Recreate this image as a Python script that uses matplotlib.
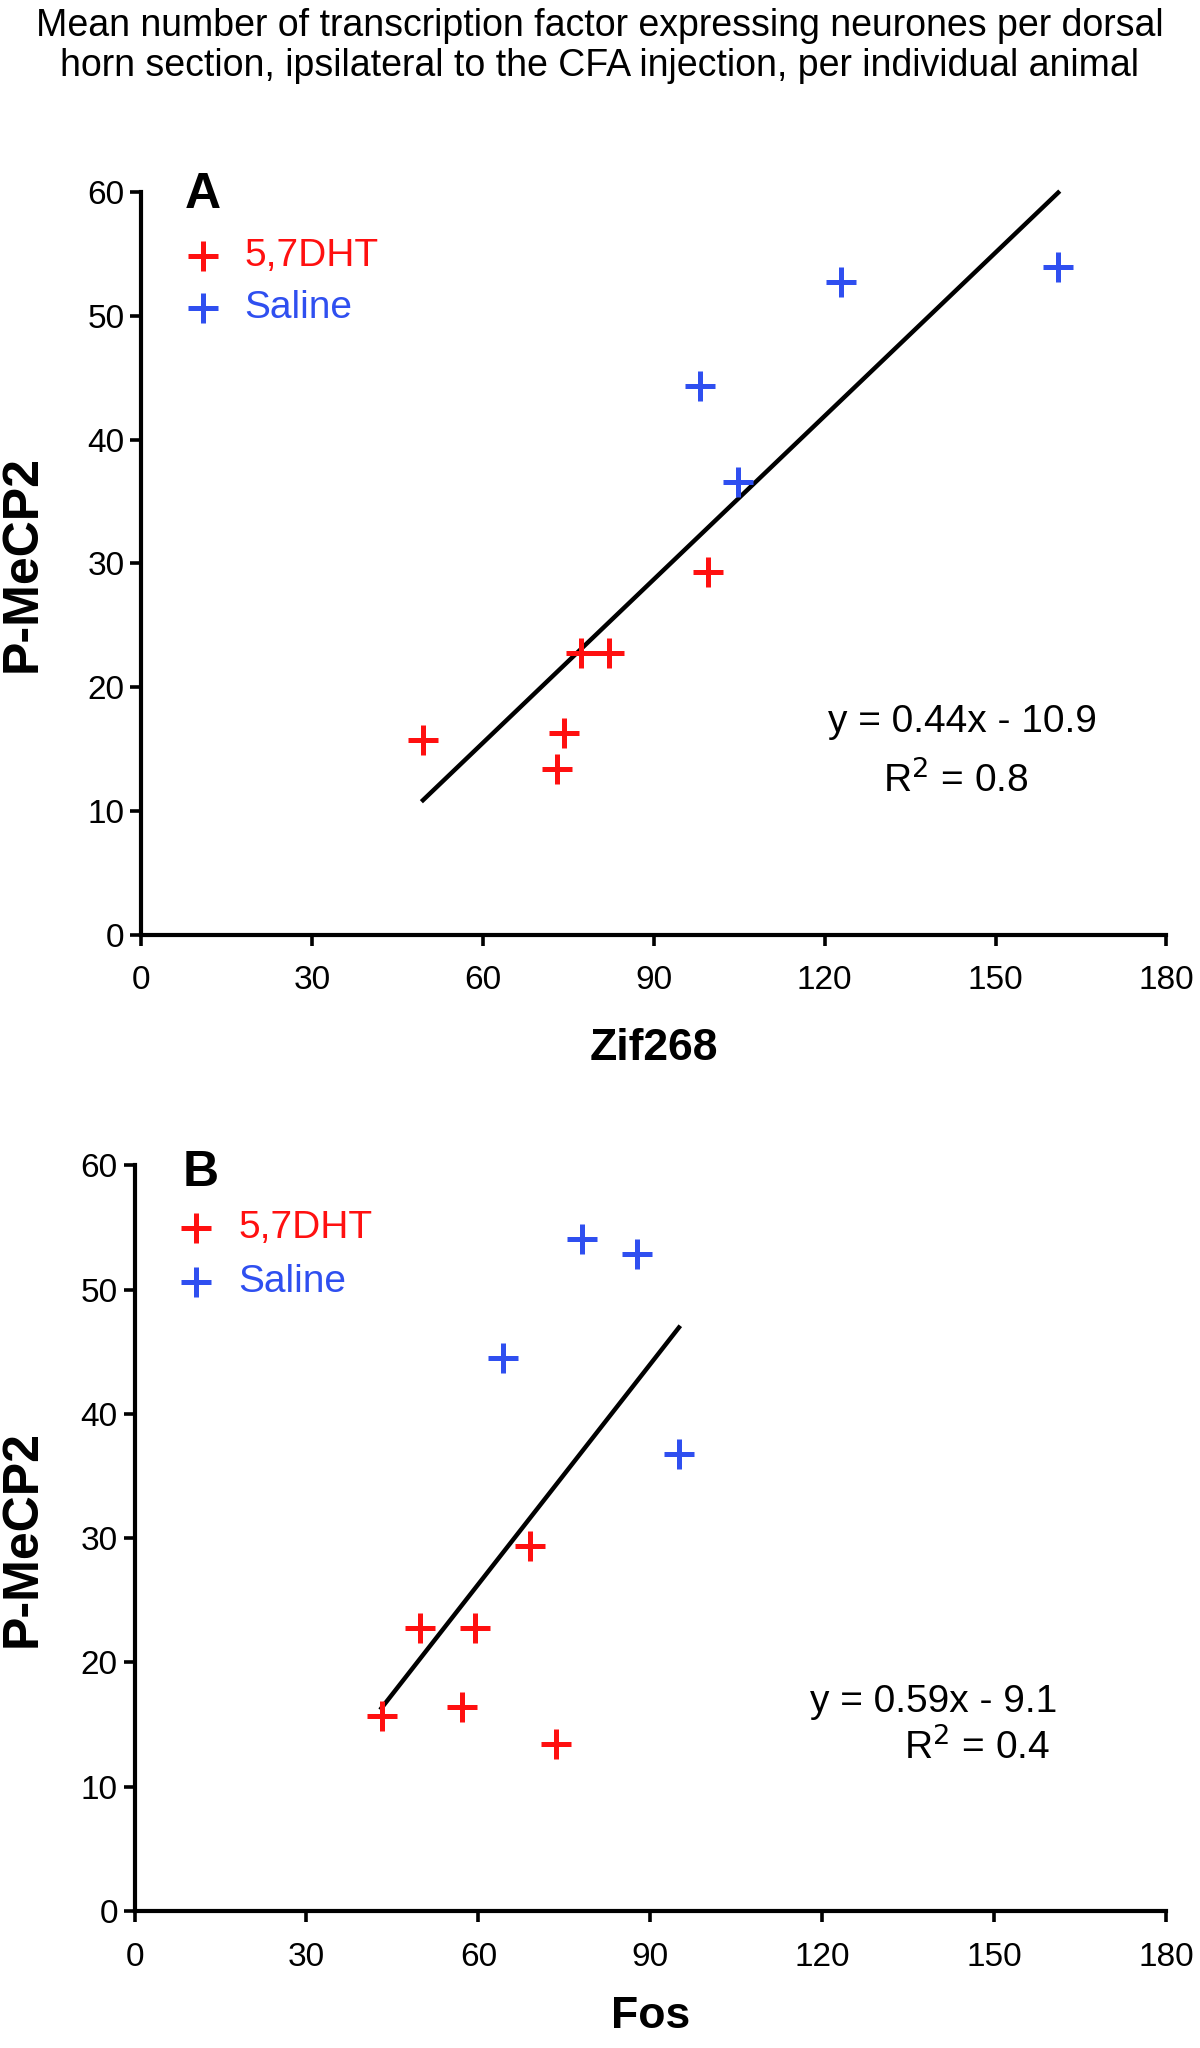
import matplotlib
matplotlib.use("Agg")
import matplotlib.pyplot as plt
import numpy as np

plt.rcParams['font.family'] = ['Liberation Sans', 'DejaVu Sans']

# ---- data ----
title = "Mean number of transcription factor expressing neurones per dorsal\nhorn section, ipsilateral to the CFA injection, per individual animal"
groups = ["5,7DHT", "Saline"]

# Panel A: Zif268 vs P-MeCP2
zif_dht = [49.5, 74.3, 73.1, 77.3, 82.1, 99.5]
mecp_dht_a = [15.7, 16.3, 13.4, 22.8, 22.8, 29.3]
zif_sal = [98.1, 104.8, 122.9, 161.0]
mecp_sal_a = [44.3, 36.6, 52.7, 53.9]
fit_a = (0.44, -10.9)
r2_a = 0.8

# Panel B: Fos vs P-MeCP2
fos_dht = [43.1, 49.9, 59.5, 57.2, 69.0, 73.6]
mecp_dht_b = [15.7, 22.8, 22.8, 16.4, 29.4, 13.4]
fos_sal = [64.3, 78.1, 87.7, 95.0]
mecp_sal_b = [44.5, 54.1, 52.9, 36.8]
fit_b = (0.59, -9.1)
r2_b = 0.4

xticks = [0, 30, 60, 90, 120, 150, 180]
yticks = [0, 10, 20, 30, 40, 50, 60]

RED = "#ff1010"
BLUE = "#2f4ff0"

fig = plt.figure(figsize=(12, 20.48), dpi=100)
fig.text(0.5, 0.996, title, ha='center', va='top', fontsize=27, linespacing=1.15)


def panel(rect, xd, yd, xs, ys, fit, r2, letter, xlabel, eq_pos, r2_pos, leg):
    ax = fig.add_axes(rect)
    ax.plot(xd, yd, '+', color=RED, ms=21, mew=3.6, clip_on=False, zorder=3)
    ax.plot(xs, ys, '+', color=BLUE, ms=21, mew=3.6, clip_on=False, zorder=3)
    allx = np.array(list(xd) + list(xs))
    lx = np.array([allx.min(), allx.max()])
    ax.plot(lx, fit[0] * lx + fit[1], color='black', lw=3.2, clip_on=False, zorder=2)
    ax.set_xlim(0, 180)
    ax.set_ylim(0, 60)
    ax.set_xticks(xticks)
    ax.set_yticks(yticks)
    for s in ['top', 'right']:
        ax.spines[s].set_visible(False)
    for s in ['left', 'bottom']:
        ax.spines[s].set_linewidth(3.0)
    ax.tick_params(axis='both', width=2.6, length=8, labelsize=24, direction='out')
    ax.tick_params(axis='x', pad=14)
    ax.tick_params(axis='y', pad=4)
    ax.set_xlabel(xlabel, fontsize=32, fontweight='bold')
    ax.set_ylabel("P-MeCP2", fontsize=36, fontweight='bold')
    ax.xaxis.set_label_coords(0.5, leg['xl'])
    ax.yaxis.set_label_coords(leg['yl'], 0.5)
    sign = '-' if fit[1] < 0 else '+'
    ax.text(eq_pos[0], eq_pos[1], f"y = {fit[0]:.2f}x {sign} {abs(fit[1]):.1f}",
            ha='center', va='center', fontsize=28)
    ax.text(r2_pos[0], r2_pos[1], f"R$^2$ = {r2:.1f}", ha='center', va='center', fontsize=28)
    ax.text(leg['lx'], leg['ly'], letter, transform=ax.transAxes, ha='left', va='center',
            fontsize=36, fontweight='bold')
    for g, col, yy in zip(groups, [RED, BLUE], leg['gy']):
        ax.plot([leg['mx']], [yy], '+', color=col, ms=21, mew=3.6, transform=ax.transAxes, clip_on=False)
        ax.text(leg['tx'], yy, g, color=col, transform=ax.transAxes, ha='left', va='center', fontsize=28)
    return ax


panel([0.1175, 0.5435, 0.8545, 0.3628], zif_dht, mecp_dht_a, zif_sal, mecp_sal_a, fit_a, r2_a,
      "A", "Zif268", (144.2, 17.2), (143.0, 12.5),
      dict(xl=-0.125, yl=-0.093, lx=0.043, ly=0.996, mx=0.06, tx=0.1006, gy=[0.914, 0.844]))
panel([0.1121, 0.0669, 0.8596, 0.3641], fos_dht, mecp_dht_b, fos_sal, mecp_sal_b, fit_b, r2_b,
      "B", "Fos", (139.4, 16.8), (147.0, 13.2),
      dict(xl=-0.114, yl=-0.086, lx=0.047, ly=0.99, mx=0.0595, tx=0.101, gy=[0.916, 0.844]))

fig.savefig("out.png", dpi=100)
